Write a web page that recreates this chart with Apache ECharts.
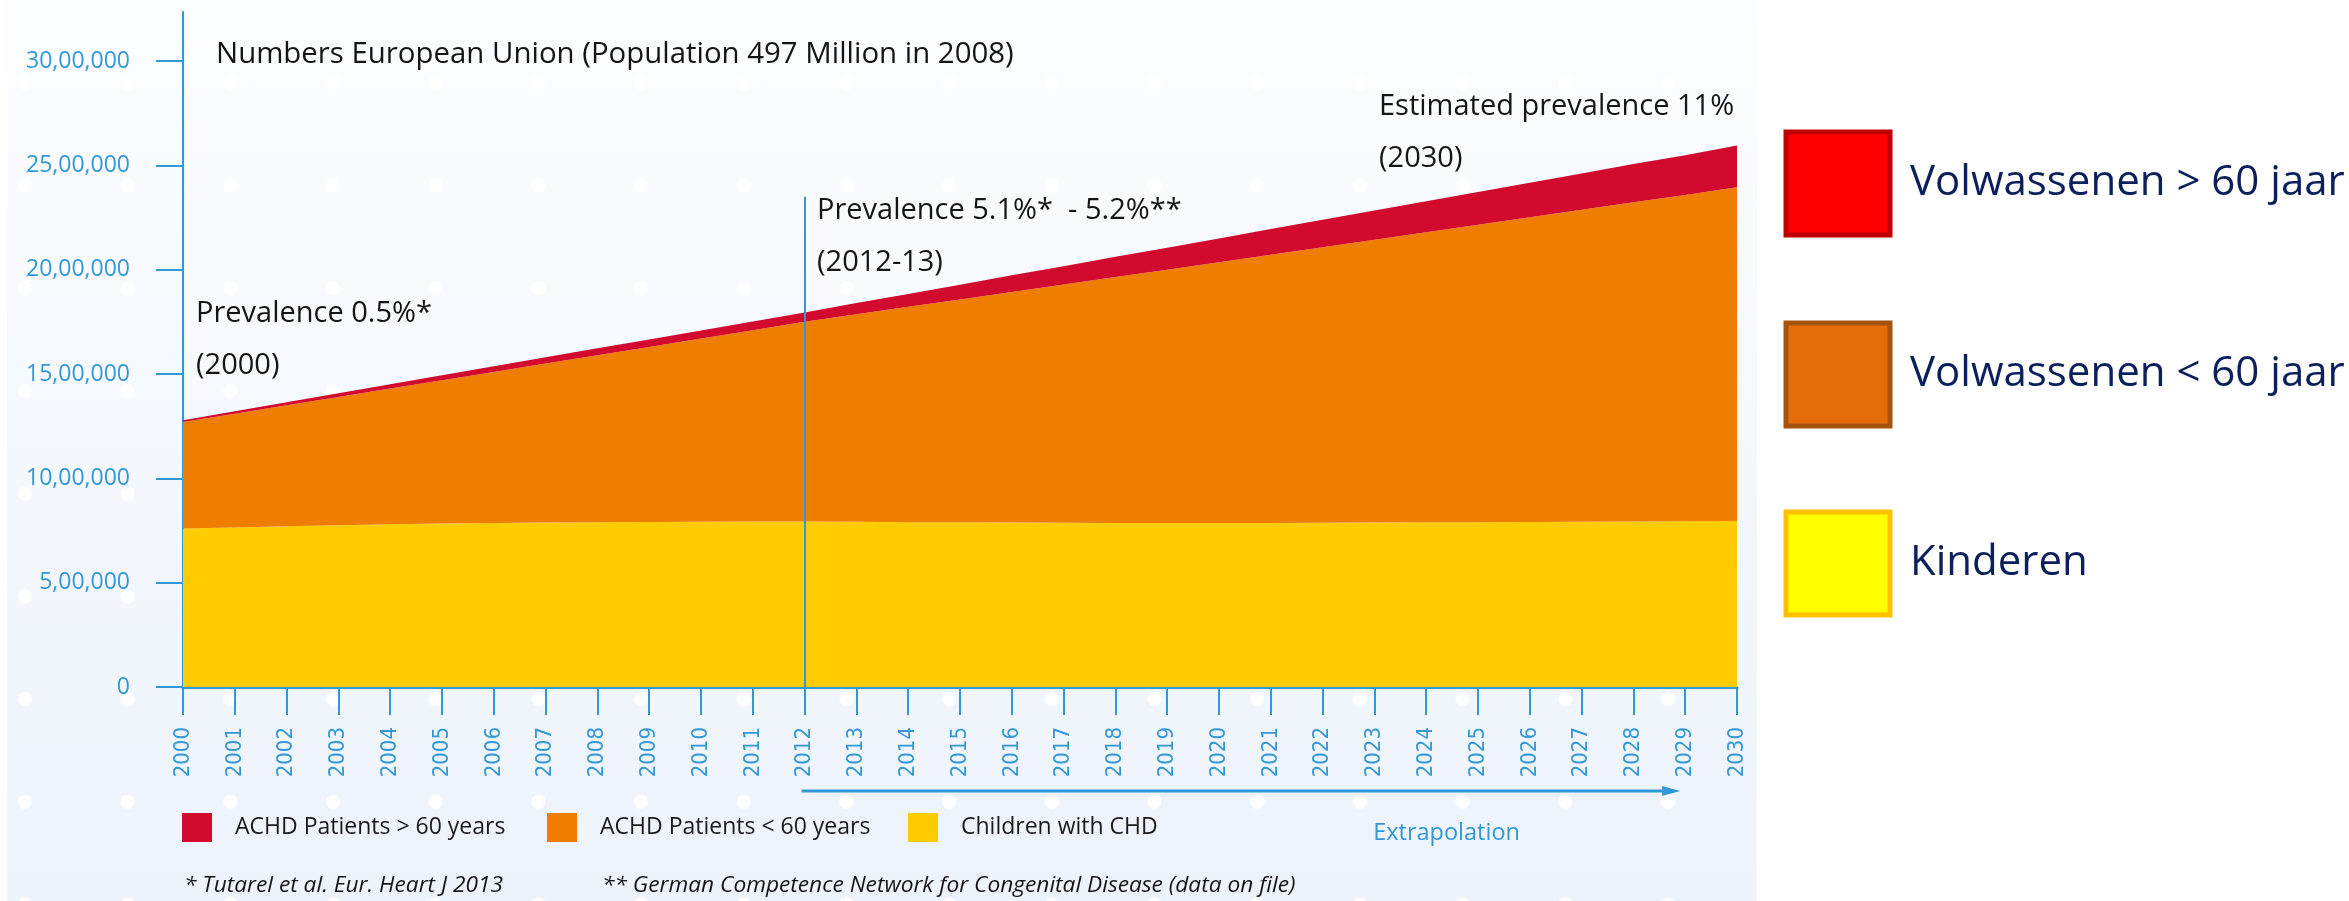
<!DOCTYPE html>
<html>
<head>
<meta charset="utf-8">
<script src="https://cdn.jsdelivr.net/npm/echarts@6/dist/echarts.min.js"></script>
<style>
html,body{margin:0;padding:0;background:#ffffff;}
#wrap{position:relative;width:2349px;height:901px;overflow:hidden;}
#bg{position:absolute;left:7px;top:0;width:1750px;height:901px;
 background-image:radial-gradient(circle, rgba(255,255,255,0.95) 6.5px, rgba(255,255,255,0) 7.5px), linear-gradient(#fcfdff, #edf3fb);
 background-size:102.7px 102.7px, 100% 100%;
 background-position:-33.35px 31.65px, 0 0;}
#chart{position:absolute;left:0;top:0;width:2349px;height:901px;}
</style>
</head>
<body>
<div id="wrap"><div id="bg"></div><div id="chart"></div></div>
<script>
const years = ['2000','2001','2002','2003','2004','2005','2006','2007','2008','2009','2010','2011','2012','2013','2014','2015','2016','2017','2018','2019','2020','2021','2022','2023','2024','2025','2026','2027','2028','2029','2030'];
const children = [760000,765000,770000,775000,780000,783000,786000,788000,790000,791000,792000,793000,793000,792000,790000,789000,788000,787000,786000,786000,786000,786000,787000,788000,789000,790000,791000,792000,793000,794000,795000];
const achdUnder60 = [510000,545000,580000,615000,650000,687000,724000,762000,800000,839000,878000,917000,957000,994000,1032000,1068000,1105000,1142000,1179000,1214000,1250000,1286000,1321000,1356000,1391000,1425000,1460000,1495000,1530000,1564000,1600000];
const achdOver60 = [9000,12000,15000,18000,21000,24000,27000,30000,33000,36000,39000,42000,45000,54000,62000,71000,80000,88000,97000,105000,114000,123000,131000,140000,148000,157000,166000,174000,183000,191000,200000];
const yTicks = [0,500000,1000000,1500000,2000000,2500000,3000000];
const seriesNames = ['Children with CHD','ACHD Patients < 60 years','ACHD Patients > 60 years'];
const dutchNames = ['Kinderen','Volwassenen < 60 jaar','Volwassenen > 60 jaar'];

const BLUE = '#3399d6';
const FONT = '"Open Sans", "Noto Sans", sans-serif';

function fmtY(v){ if(v===0) return '0'; return (v/100000)+',00,000'; }

const chart = echarts.init(document.getElementById('chart'), null, {renderer:'canvas'});

function bottomLegend(name, left, color){
  return {
    data:[name], left:left, top:813, padding:0, orient:'horizontal', selectedMode:false,
    icon:'rect', itemWidth:30, itemHeight:29,
    itemStyle:{color:color, borderWidth:0},
    textStyle:{fontFamily:FONT, fontSize:23, color:'#1a1a1a', padding:[0,0,0,18]}
  };
}
function rightLegend(name, label, top, fill, border){
  return {
    data:[name], left:1783.5, top:top, padding:0, orient:'vertical', selectedMode:false,
    icon:'rect', itemWidth:104, itemHeight:103,
    formatter: label,
    itemStyle:{color:fill, borderColor:border, borderWidth:5},
    textStyle:{fontFamily:FONT, fontSize:42, color:'#0a1f5c', padding:[0,0,0,15]}
  };
}

const option = {
  backgroundColor:'transparent',
  animation:false,
  grid:{left:183, right:612, top:12, bottom:214, containLabel:false},
  legend:[
    bottomLegend(seriesNames[2], 182, '#d20a2e'),
    bottomLegend(seriesNames[1], 547, '#ef7d00'),
    bottomLegend(seriesNames[0], 908, '#fecc00'),
    rightLegend(seriesNames[2], dutchNames[2], 129.5, '#ff0000', '#c00000'),
    rightLegend(seriesNames[1], dutchNames[1], 320.5, '#e46c0a', '#a5540f'),
    rightLegend(seriesNames[0], dutchNames[0], 509.5, '#ffff00', '#ffc000')
  ],
  xAxis:{
    type:'category', data:years, boundaryGap:false,
    axisLine:{show:true, lineStyle:{color:BLUE, width:3}},
    axisTick:{show:true, length:28, inside:false, alignWithLabel:true, lineStyle:{color:BLUE, width:2}},
    axisLabel:{show:true, interval:0, rotate:90, margin:40, color:BLUE,
      fontFamily:'"DejaVu Sans Condensed", "DejaVu Sans", sans-serif', fontSize:22},
    splitLine:{show:false}
  },
  yAxis:{
    type:'value', min:0, max:3235000, interval:500000,
    axisLine:{show:true, lineStyle:{color:BLUE, width:2}},
    axisTick:{show:true, length:27, customValues:yTicks, lineStyle:{color:BLUE, width:2}},
    axisLabel:{show:true, customValues:yTicks, margin:53, color:BLUE, fontFamily:FONT, fontSize:23, formatter:fmtY},
    splitLine:{show:false}
  },
  series:[
    {name:seriesNames[0], type:'line', stack:'total', data:children, symbol:'none', smooth:false,
     lineStyle:{width:0}, areaStyle:{color:'#fecc00', opacity:1}, itemStyle:{color:'#fecc00'}},
    {name:seriesNames[1], type:'line', stack:'total', data:achdUnder60, symbol:'none',
     lineStyle:{width:0}, areaStyle:{color:'#ef7d00', opacity:1}, itemStyle:{color:'#ef7d00'}},
    {name:seriesNames[2], type:'line', stack:'total', data:achdOver60, symbol:'none',
     lineStyle:{width:0}, areaStyle:{color:'#d20a2e', opacity:1}, itemStyle:{color:'#d20a2e'},
     markLine:{silent:true, symbol:['none','none'], label:{show:false},
       lineStyle:{color:BLUE, width:2, type:'solid'},
       data:[[{coord:['2012',0]},{coord:['2012',2350000]}]]}}
  ]
};
chart.setOption(option);

const x12 = chart.convertToPixel({xAxisIndex:0}, '2012');
const x29 = chart.convertToPixel({xAxisIndex:0}, '2029');
const x24 = chart.convertToPixel({xAxisIndex:0}, '2024');
const arrowY = 791;
const tip = x29 - 5;

function txt(x, y, s, size, color, style){
  return {type:'text', x:x, y:y, z:100, silent:true,
    style:{text:s, fontFamily:FONT, fontSize:size, fill:color||'#151515', fontStyle:style||'normal',
      align:'left', verticalAlign:'middle'}};
}

chart.setOption({
  graphic:[
    txt(216, 55, 'Numbers European Union (Population 497 Million in 2008)', 29.4),
    txt(196, 314, 'Prevalence 0.5%*', 29),
    txt(196, 366, '(2000)', 29),
    txt(817, 211, 'Prevalence 5.1%*  - 5.2%**', 29),
    txt(817, 263, '(2012-13)', 29),
    txt(1379, 107, 'Estimated prevalence 11%', 29),
    txt(1379, 159, '(2030)', 29),
    txt(x24 - 53, 833, 'Extrapolation', 23.5, BLUE),
    txt(184, 886, '* Tutarel et al. Eur. Heart J 2013', 22.7, '#151515', 'italic'),
    txt(602, 886, '** German Competence Network for Congenital Disease (data on file)', 22.7, '#151515', 'italic'),
    {type:'line', z:100, silent:true, shape:{x1:x12 - 3, y1:arrowY, x2:tip - 14, y2:arrowY},
      style:{stroke:BLUE, lineWidth:3}},
    {type:'polygon', z:100, silent:true, shape:{points:[[tip-18, arrowY-5],[tip, arrowY],[tip-18, arrowY+5]]},
      style:{fill:BLUE}}
  ]
});
</script>
</body>
</html>
